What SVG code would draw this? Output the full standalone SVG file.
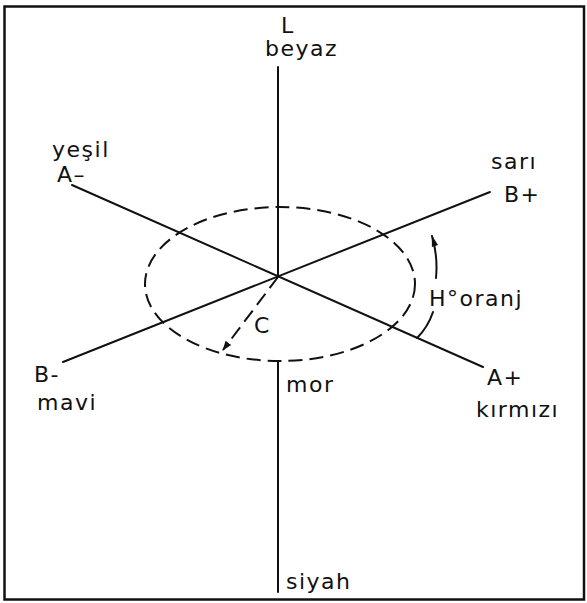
<svg xmlns="http://www.w3.org/2000/svg" width="587" height="603" viewBox="0 0 587 603">
<defs>
<style>
.ln{stroke:#111;stroke-width:2;fill:none;stroke-linecap:round}
.ds{stroke:#111;stroke-width:2;fill:none;stroke-dasharray:14 7}
.t{font-family:"DejaVu Sans","Liberation Sans",sans-serif;font-size:22px;fill:#111;letter-spacing:1.5px}
</style>
<marker id="ah" viewBox="0 0 10 10" refX="9" refY="5" markerWidth="10" markerHeight="10" markerUnits="userSpaceOnUse" orient="auto">
<path d="M0,1.5 L10,5 L0,8.5 z" fill="#111"/>
</marker>
<marker id="ah2" viewBox="0 0 14 10" refX="13" refY="5" markerWidth="14" markerHeight="8" markerUnits="userSpaceOnUse" orient="auto">
<path d="M0,1 L14,5 L0,9 z" fill="#111"/>
</marker>
</defs>
<rect x="0" y="0" width="587" height="603" fill="#fff"/>
<rect x="4.5" y="6.5" width="579.5" height="593" fill="none" stroke="#111" stroke-width="2.5"/>
<g id="connectors">
<line class="ln" x1="278" y1="67" x2="278" y2="277"/>
<line class="ln" x1="278" y1="362" x2="278" y2="592"/>
<line class="ln" x1="72" y1="185" x2="483" y2="367"/>
<line class="ln" x1="63" y1="362" x2="490" y2="192"/>
<ellipse class="ds" cx="280" cy="284" rx="135" ry="77"/>
<line class="ds" x1="278" y1="277" x2="223" y2="350" stroke-dasharray="12 7" marker-end="url(#ah)"/>
<path class="ln" d="M436 278 Q438 256 432 236" marker-end="url(#ah2)"/>
<path class="ln" d="M433 312 Q428 327 417 338"/>
</g>
<g id="L"><text class="t" x="281" y="33">L</text></g>
<g id="beyaz"><text class="t" x="265" y="56">beyaz</text></g>
<g id="yesil"><text class="t" x="52" y="157">yeşil</text></g>
<g id="Aminus"><text class="t" x="57" y="182">A–</text></g>
<g id="sari"><text class="t" x="491" y="169">sarı</text></g>
<g id="Bplus"><text class="t" x="504" y="202">B+</text></g>
<g id="Bminus"><text class="t" x="34" y="382">B-</text></g>
<g id="mavi"><text class="t" x="37" y="410">mavi</text></g>
<g id="mor"><text class="t" x="286" y="392">mor</text></g>
<g id="Aplus"><text class="t" x="487" y="385">A+</text></g>
<g id="kirmizi"><text class="t" x="476" y="417">kırmızı</text></g>
<g id="H"><text class="t" x="429" y="306">H°oranj</text></g>
<g id="C"><text class="t" x="254" y="333">C</text></g>
<g id="siyah"><text class="t" x="286" y="589">siyah</text></g>
</svg>
